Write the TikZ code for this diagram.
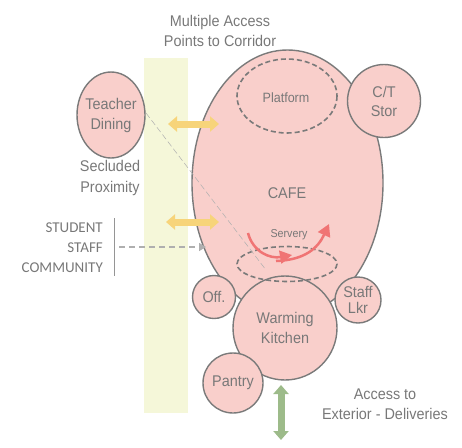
\documentclass[tikz,border=0pt]{standalone}
\usepackage{fontspec}
\setmainfont[FakeStretch=0.93]{Liberation Sans}
\newfontfamily\calib{Carlito}
\usetikzlibrary{arrows.meta}
\definecolor{pinkfill}{HTML}{F9CFCB}
\definecolor{edgegray}{HTML}{7A7A7A}
\definecolor{txtgray}{HTML}{787878}
\definecolor{corr}{HTML}{F5F7D9}
\definecolor{yarrow}{HTML}{F7D47A}
\definecolor{garrow}{HTML}{9DBB8A}
\definecolor{rarrow}{HTML}{F07474}
\tikzset{
  room/.style={draw=edgegray, fill=pinkfill, line width=1.4pt},
  zone/.style={draw=edgegray, dashed, line width=1.6pt, dash pattern=on 5pt off 3pt},
  lbl/.style={text=txtgray, font=\fontsize{15.5}{18}\selectfont, align=center, inner sep=0pt},
  access/.style={line width=7pt, {Triangle[length=9pt,width=15pt]}-{Triangle[length=9pt,width=15pt]}},
}
\begin{document}
\begin{tikzpicture}[x=1pt,y=-1pt]
\useasboundingbox (0,0) rectangle (462,447);
% corridor
\fill[corr] (144,58) rectangle (188,413);
% cafe
\draw[room] (287.5,183) ellipse [x radius=95.5, y radius=133];
\node[lbl] (cafe) at (287,193) {CAFE};
\draw[zone] (287,96) ellipse [x radius=50, y radius=37];
\node[lbl, font=\fontsize{13.5}{16}\selectfont] (plat) at (286,98) {Platform};
% C/T stor
\node[room, circle, minimum size=73pt, lbl] (ct) at (384,101) {C/T\\[1pt]Stor};
% teacher dining
\draw[room] (111,115) ellipse [x radius=34, y radius=43];
\node[lbl] (td) at (111,115) {Teacher\\[2pt]Dining};
\node[lbl] (sec) at (110,178) {Secluded\\[3pt]Proximity};
% small rooms
\node[room, circle, minimum size=43pt, lbl] (off) at (214,297) {Off.};
\node[room, circle, minimum size=46pt, lbl] (lkr) at (358,300) {Staff\\[-2pt]Lkr};
\node[room, circle, minimum size=104pt, lbl] (wk) at (285,328) {Warming\\[2pt]Kitchen};
\node[room, circle, minimum size=60pt, lbl] (pan) at (233,383) {Pantry};
% servery zone
\draw[zone] (287,264) ellipse [x radius=50, y radius=17.5];
\node[lbl, font=\fontsize{11.5}{13}\selectfont] (serv) at (289,235) {Servery};
% red flow arrows
\coordinate (r1) at (248,233);
\coordinate (r2) at (292,255);
\coordinate (r3) at (276,261);
\coordinate (r4) at (329,224);
\draw[rarrow, line width=2.5pt, -{Triangle[length=12pt,width=13pt]}] (r1) .. controls (253,252) and (270,259) .. (r2);
\draw[rarrow, line width=2.5pt, -{Triangle[length=12pt,width=13pt]}] (r3) .. controls (305,260) and (318,248) .. (r4);
% diagonal dashed line
\coordinate (d1) at (146,113);
\coordinate (d2) at (266,270);
\draw[edgegray!60, dashed, line width=0.5pt, dash pattern=on 6pt off 3pt] (d1) -- (d2);
% yellow access arrows
\coordinate (ya1) at (168,124);
\coordinate (ya2) at (219,124);
\coordinate (yb1) at (166,222);
\coordinate (yb2) at (219,222);
\draw[yarrow, access] (ya1) -- (ya2);
\draw[yarrow, access] (yb1) -- (yb2);
% top text
\node[lbl] (mult) at (220,31) {Multiple Access\\[2pt]Points to Corridor};
% student staff community
\node[lbl, align=right, anchor=east, font=\calib\fontsize{15}{20}\selectfont] (ssc) at (103,248) {STUDENT\\STAFF\\COMMUNITY};
\coordinate (v1) at (114,218);
\coordinate (v2) at (114,276);
\draw[edgegray!80, line width=1pt] (v1) -- (v2);
\coordinate (g1) at (119,247);
\coordinate (g2) at (206,247);
\draw[edgegray!60, line width=1.5pt, dash pattern=on 6pt off 4pt, -{Triangle[length=7pt,width=8pt]}] (g1) -- (g2);
% green access
\coordinate (ga1) at (281,385);
\coordinate (ga2) at (281,440);
\draw[garrow, access] (ga1) -- (ga2);
\node[lbl] (ext) at (385,404) {Access to\\[2pt]Exterior - Deliveries};
\end{tikzpicture}
\end{document}
